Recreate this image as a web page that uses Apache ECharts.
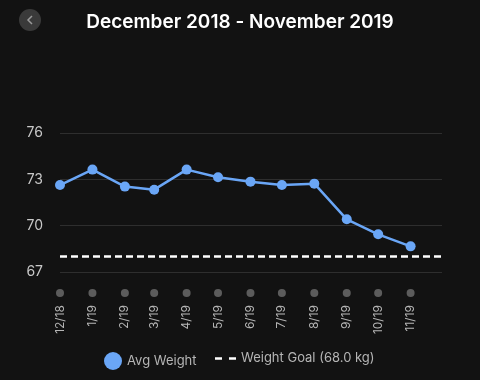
<!DOCTYPE html>
<html><head><meta charset="utf-8">
<script src="https://cdn.jsdelivr.net/npm/echarts@6/dist/echarts.min.js"></script>
<style>html,body{margin:0;padding:0;background:#121212}#c{width:480px;height:380px}</style>
</head><body><div id="c"></div>
<script>
const months = ['2018-12-01','2019-01-01','2019-02-01','2019-03-01','2019-04-01','2019-05-01','2019-06-01','2019-07-01','2019-08-01','2019-09-01','2019-10-01','2019-11-01'];
const monthLabels = ['12/18','1/19','2/19','3/19','4/19','5/19','6/19','7/19','8/19','9/19','10/19','11/19'];
const avgWeight = [72.63, 73.63, 72.53, 72.33, 73.63, 73.13, 72.85, 72.63, 72.72, 70.41, 69.44, 68.66];
const goalWeight = 68.0;
const axisStart = '2018-12-01';
const axisEnd = '2019-12-01';

const DAY = 86400000;
const ts = s => Date.parse(s + 'T00:00:00Z') / DAY;   // days since epoch
const monthTs = months.map(ts);
const FONT = 'Inter, Roboto, sans-serif';

const chart = echarts.init(document.getElementById('c'));
chart.setOption({
  backgroundColor: '#121212',
  animation: false,
  textStyle: { fontFamily: FONT },
  title: {
    text: 'December 2018 - November 2019',
    left: 'center', top: 8,
    textStyle: { color: '#ffffff', fontSize: 19, fontWeight: 600, fontFamily: FONT }
  },
  graphic: [
    { type: 'circle', shape: { cx: 30, cy: 20, r: 11 }, style: { fill: '#3a3a3a' } },
    { type: 'polyline', shape: { points: [[32, 16], [28, 20], [32, 24]] }, style: { stroke: '#9a9a9a', lineWidth: 1.5, fill: null } }
  ],
  legend: [
    {
      data: [{ name: 'Avg Weight', icon: 'circle' }],
      left: 99, top: 347, itemWidth: 18, itemHeight: 18, itemGap: 5,
      textStyle: { color: '#b5b5b5', fontSize: 13, fontFamily: FONT },
      selectedMode: false
    },
    {
      data: [{ name: 'Weight Goal (68.0 kg)', icon: 'path://M0,0h7v2.5h-7z M14,0h7v2.5h-7z' }],
      left: 210, top: 347, itemWidth: 21, itemHeight: 18,
      textStyle: { color: '#b5b5b5', fontSize: 13, fontFamily: FONT },
      selectedMode: false
    }
  ],
  grid: [
    { left: 60, right: 38, top: 133, height: 139 },
    { left: 60, right: 38, top: 285, height: 16 }
  ],
  xAxis: [
    {
      type: 'value', gridIndex: 0, min: ts(axisStart), max: ts(axisEnd),
      axisLine: { show: false }, axisTick: { show: false }, axisLabel: { show: false }, splitLine: { show: false }
    },
    {
      type: 'value', gridIndex: 1, min: ts(axisStart), max: ts(axisEnd),
      axisLine: { show: false }, axisTick: { show: false }, splitLine: { show: false },
      axisLabel: {
        customValues: monthTs,
        rotate: 90, margin: 4, color: '#b5b5b5', fontSize: 12, fontFamily: FONT,
        formatter: v => { const i = monthTs.indexOf(v); return i >= 0 ? monthLabels[i] : ''; }
      }
    }
  ],
  yAxis: [
    {
      type: 'value', gridIndex: 0, min: 67, max: 76, interval: 3,
      axisLine: { show: false }, axisTick: { show: false },
      axisLabel: { color: '#c8c8c8', fontSize: 14, margin: 17, fontFamily: FONT },
      splitLine: { lineStyle: { color: '#2e2e2e', width: 1 } }
    },
    {
      type: 'value', gridIndex: 1, min: 0, max: 1, show: false
    }
  ],
  series: [
    {
      name: 'Avg Weight', type: 'line', xAxisIndex: 0, yAxisIndex: 0,
      data: monthTs.map((t, i) => [t, avgWeight[i]]),
      symbol: 'circle', symbolSize: 10, showAllSymbol: true,
      itemStyle: { color: '#6aa6f6' },
      lineStyle: { color: '#6aa6f6', width: 2.5 }
    },
    {
      name: 'Weight Goal (68.0 kg)', type: 'line', xAxisIndex: 0, yAxisIndex: 0,
      data: [[ts(axisStart), goalWeight], [ts(axisEnd), goalWeight]],
      symbol: 'none',
      itemStyle: { color: '#ffffff' },
      lineStyle: { color: '#ffffff', width: 2.5, type: [7, 4] }
    },
    {
      type: 'scatter', xAxisIndex: 1, yAxisIndex: 1,
      data: monthTs.map(t => [t, 0.5]),
      symbol: 'circle', symbolSize: 8,
      itemStyle: { color: '#6f6f6f' },
      silent: true
    }
  ]
});
</script></body></html>
